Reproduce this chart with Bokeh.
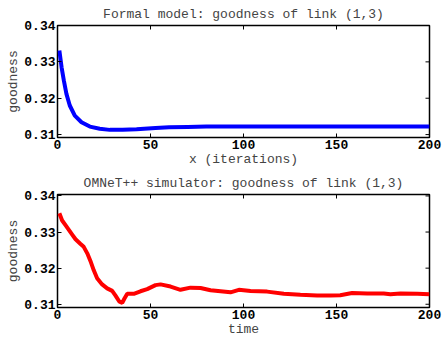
import math
from bokeh.plotting import figure
from bokeh.layouts import column
from bokeh.models import Range1d, FixedTicker, PrintfTickFormatter
from bokeh.embed import file_html
from bokeh.resources import INLINE

# Formal model: goodness of link (1,3)
model_x = [1, 2.2, 3.4, 4.8, 6.6, 9.3, 12.9, 17.4, 22.7, 28.1, 35, 42.5, 52.7, 60, 70, 80,
           100, 150, 200]
model_y = [0.3331, 0.3285, 0.3249, 0.3212, 0.3180, 0.3152, 0.3134, 0.3122, 0.3116, 0.3113,
           0.3113, 0.3115, 0.3118, 0.3120, 0.3121, 0.3122, 0.3122, 0.3122, 0.3122]

# OMNeT++ simulator: goodness of link (1,3)
sim_x = [1, 2.5, 4.3, 6.1, 7.9, 9.7, 12.4, 14.1, 16, 17.7, 19.5, 21.3, 24, 26.7, 29.4, 31.2,
         33.3, 34.8, 36, 37.5, 41, 44.6, 48.2, 52.7, 55.4, 60.8, 66.1, 71.5, 76.9, 82.3, 93,
         97.5, 103.8, 112.7, 121.7, 130.6, 139.6, 146.8, 152, 158.4, 166.5, 175.4, 179, 184.4,
         193.4, 200]
sim_y = [0.3352, 0.3332, 0.3319, 0.3306, 0.3293, 0.3280, 0.3267, 0.3259, 0.3241, 0.3220,
         0.3194, 0.3172, 0.3155, 0.3144, 0.3137, 0.3124, 0.3107, 0.3104, 0.3116, 0.3129,
         0.3129, 0.3136, 0.3142, 0.3153, 0.3155, 0.3149, 0.3140, 0.3146, 0.3145, 0.3139,
         0.3133, 0.3140, 0.3137, 0.3135, 0.3129, 0.3126, 0.3124, 0.3124, 0.3125, 0.3131,
         0.3130, 0.3130, 0.3128, 0.3130, 0.3129, 0.3128]

x_ticks = [0, 50, 100, 150, 200]
y_ticks = [0.31, 0.32, 0.33, 0.34]

MONO = "Liberation Mono"
GRAY = "#444444"


def style_axis(ax):
    ax.major_tick_in = 4
    ax.major_tick_out = 0
    ax.minor_tick_in = 0
    ax.minor_tick_out = 0
    ax.axis_line_color = None
    ax.major_tick_line_color = "black"
    ax.major_label_standoff = 2
    ax.major_label_text_font = MONO
    ax.major_label_text_font_style = "bold"
    ax.major_label_text_font_size = "13px"
    ax.major_label_text_color = "black"
    ax.axis_label_text_font = MONO
    ax.axis_label_text_font_style = "normal"
    ax.axis_label_text_font_size = "13px"
    ax.axis_label_text_color = GRAY
    ax.axis_label_standoff = 0


def make_fig(xs, ys, color, title, xlabel, height, yr, top, bottom):
    xr = (0, 200)
    p = figure(width=442, height=height, output_backend="svg", toolbar_location=None,
               x_range=Range1d(*xr), y_range=Range1d(*yr),
               min_border_left=57, min_border_right=13,
               min_border_top=top, min_border_bottom=bottom)
    p.title.text = title
    p.title.text_font = MONO
    p.title.text_font_style = "normal"
    p.title.text_font_size = "13px"
    p.title.text_color = GRAY
    p.title.align = "center"
    p.title.standoff = 7
    p.grid.visible = False
    p.outline_line_color = "black"
    p.outline_line_width = 1.5

    p.xaxis.ticker = FixedTicker(ticks=x_ticks)
    p.yaxis.ticker = FixedTicker(ticks=y_ticks)
    p.yaxis.formatter = PrintfTickFormatter(format="%.2f")
    p.xaxis.axis_label = xlabel
    p.yaxis.axis_label = "goodness"
    for ax in p.xaxis + p.yaxis:
        style_axis(ax)

    # inward ticks on the top and right edges of the box (clipped to the frame)
    p.scatter(x=x_ticks, y=[yr[1]] * len(x_ticks), marker="dash", size=8,
              angle=math.pi / 2, line_color="black", line_width=1)
    p.scatter(x=[xr[1]] * len(y_ticks), y=y_ticks, marker="dash", size=8,
              line_color="black", line_width=1)

    p.line(xs, ys, line_color=color, line_width=4)
    return p


p1 = make_fig(model_x, model_y, "#0000ff", "Formal model: goodness of link (1,3)",
              "x (iterations)", 170, (0.3092, 0.34), 25, 33)
p2 = make_fig(sim_x, sim_y, "#ff0000", "OMNeT++ simulator: goodness of link (1,3)",
              "time", 169, (0.3091, 0.3404), 19, 30)

layout = column(p1, p2, spacing=0)
open("out.html", "w").write(file_html(layout, INLINE))
